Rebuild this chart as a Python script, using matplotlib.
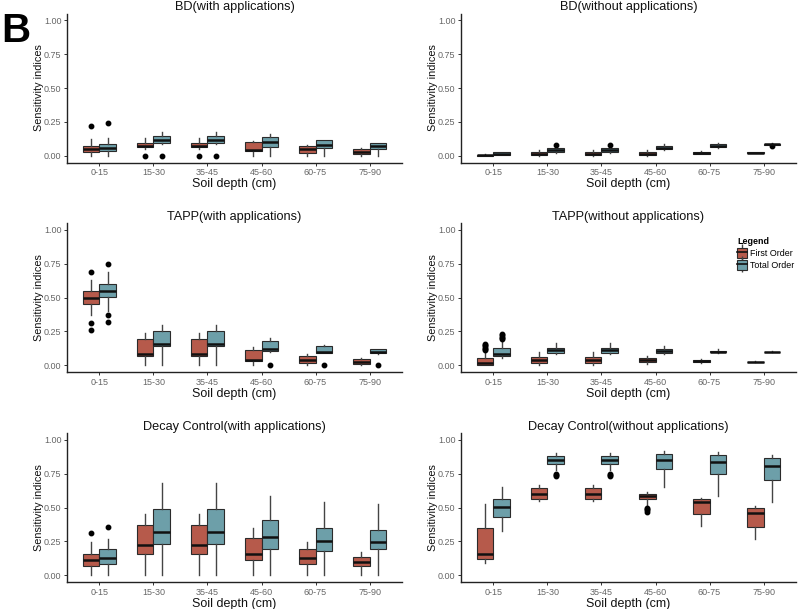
import matplotlib
matplotlib.use("Agg")
import matplotlib.pyplot as plt
from matplotlib.patches import Patch
from matplotlib.lines import Line2D
from matplotlib.legend_handler import HandlerTuple

plt.rcParams['font.family'] = ['Liberation Sans', 'DejaVu Sans']

# Data: each box = [whisker low, q1, median, q3, whisker high]
depths = ['0-15', '15-30', '35-45', '45-60', '60-75', '75-90']
titles = ['BD(with applications)', 'BD(without applications)',
          'TAPP(with applications)', 'TAPP(without applications)',
          'Decay Control(with applications)', 'Decay Control(without applications)']

bd_with_first = [[0.0, 0.025, 0.05, 0.072, 0.125], [0.05, 0.062, 0.075, 0.091, 0.13],
                 [0.05, 0.062, 0.075, 0.091, 0.13], [0.0, 0.035, 0.04, 0.10, 0.11],
                 [0.0, 0.02, 0.05, 0.07, 0.08], [0.0, 0.01, 0.03, 0.05, 0.055]]
bd_with_first_out = [[0.22], [0.0], [0.0], [], [], []]
bd_with_total = [[0.0, 0.035, 0.06, 0.085, 0.133], [0.085, 0.092, 0.116, 0.142, 0.175],
                 [0.085, 0.092, 0.116, 0.142, 0.175], [0.0, 0.066, 0.10, 0.14, 0.158],
                 [0.0, 0.06, 0.08, 0.113, 0.115], [0.0, 0.05, 0.072, 0.092, 0.095]]
bd_with_total_out = [[0.24], [0.0], [0.0], [], [], []]

bd_without_first = [[0.0, 0.0, 0.003, 0.006, 0.01], [0.0, 0.002, 0.01, 0.03, 0.04],
                    [0.0, 0.002, 0.01, 0.03, 0.04], [0.0, 0.005, 0.015, 0.03, 0.045],
                    [0.01, 0.012, 0.02, 0.03, 0.035], [0.018, 0.02, 0.022, 0.025, 0.027]]
bd_without_first_out = [[], [], [], [], [], []]
bd_without_total = [[0.003, 0.008, 0.015, 0.025, 0.027], [0.02, 0.025, 0.04, 0.055, 0.062],
                    [0.02, 0.025, 0.04, 0.055, 0.062], [0.04, 0.047, 0.06, 0.074, 0.09],
                    [0.06, 0.066, 0.075, 0.085, 0.092], [0.078, 0.08, 0.085, 0.09, 0.095]]
bd_without_total_out = [[], [0.08], [0.08], [], [], [0.07]]

tapp_with_first = [[0.37, 0.452, 0.495, 0.545, 0.63], [0.0, 0.07, 0.082, 0.19, 0.24],
                   [0.0, 0.07, 0.082, 0.19, 0.24], [0.0, 0.03, 0.04, 0.115, 0.135],
                   [0.0, 0.017, 0.04, 0.07, 0.08], [0.0, 0.01, 0.025, 0.045, 0.05]]
tapp_with_first_out = [[0.69, 0.31, 0.26], [], [], [], [], []]
tapp_with_total = [[0.40, 0.504, 0.55, 0.597, 0.685], [0.0, 0.14, 0.155, 0.25, 0.30],
                   [0.0, 0.14, 0.155, 0.25, 0.30], [0.10, 0.105, 0.12, 0.18, 0.20],
                   [0.09, 0.093, 0.10, 0.145, 0.15], [0.085, 0.088, 0.10, 0.12, 0.12]]
tapp_with_total_out = [[0.75, 0.37, 0.32], [], [], [0.0], [0.0], [0.0]]

tapp_without_first = [[0.0, 0.005, 0.02, 0.055, 0.10], [0.0, 0.017, 0.04, 0.06, 0.10],
                      [0.0, 0.017, 0.04, 0.06, 0.10], [0.01, 0.022, 0.035, 0.05, 0.065],
                      [0.02, 0.025, 0.033, 0.04, 0.045], [0.022, 0.024, 0.025, 0.026, 0.028]]
tapp_without_first_out = [[0.11, 0.12, 0.13, 0.14, 0.15, 0.16], [], [], [], [], []]
tapp_without_total = [[0.05, 0.071, 0.08, 0.128, 0.17], [0.08, 0.09, 0.11, 0.13, 0.165],
                      [0.08, 0.09, 0.11, 0.13, 0.165], [0.08, 0.09, 0.105, 0.12, 0.14],
                      [0.09, 0.095, 0.10, 0.108, 0.12], [0.097, 0.098, 0.10, 0.101, 0.102]]
tapp_without_total_out = [[0.19, 0.20, 0.21, 0.22, 0.23], [], [], [], [], []]

decay_with_first = [[0.0, 0.071, 0.115, 0.157, 0.243], [0.0, 0.16, 0.224, 0.37, 0.455],
                    [0.0, 0.16, 0.224, 0.37, 0.455], [0.0, 0.11, 0.16, 0.275, 0.35],
                    [0.0, 0.085, 0.125, 0.19, 0.243], [0.0, 0.066, 0.095, 0.133, 0.174]]
decay_with_first_out = [[0.31], [], [], [], [], []]
decay_with_total = [[0.0, 0.086, 0.13, 0.19, 0.268], [0.0, 0.23, 0.32, 0.49, 0.683],
                    [0.0, 0.23, 0.32, 0.49, 0.683], [0.0, 0.197, 0.283, 0.405, 0.587],
                    [0.0, 0.18, 0.255, 0.35, 0.54], [0.0, 0.19, 0.247, 0.337, 0.523]]
decay_with_total_out = [[0.355], [], [], [], [], []]

decay_without_first = [[0.09, 0.12, 0.157, 0.349, 0.523], [0.55, 0.563, 0.60, 0.644, 0.668],
                       [0.55, 0.563, 0.60, 0.644, 0.668], [0.52, 0.56, 0.582, 0.60, 0.615],
                       [0.36, 0.452, 0.54, 0.563, 0.57], [0.268, 0.354, 0.46, 0.50, 0.51]]
decay_without_first_out = [[], [], [], [0.47, 0.48, 0.49, 0.50], [], []]
decay_without_total = [[0.324, 0.43, 0.504, 0.563, 0.651], [0.78, 0.823, 0.853, 0.877, 0.90],
                       [0.78, 0.823, 0.853, 0.877, 0.90], [0.651, 0.786, 0.85, 0.894, 0.914],
                       [0.582, 0.747, 0.835, 0.885, 0.91], [0.538, 0.70, 0.803, 0.865, 0.89]]
decay_without_total_out = [[], [0.73, 0.74, 0.75], [0.73, 0.74, 0.75], [], [], []]

panels = [
    (bd_with_first, bd_with_first_out, bd_with_total, bd_with_total_out),
    (bd_without_first, bd_without_first_out, bd_without_total, bd_without_total_out),
    (tapp_with_first, tapp_with_first_out, tapp_with_total, tapp_with_total_out),
    (tapp_without_first, tapp_without_first_out, tapp_without_total, tapp_without_total_out),
    (decay_with_first, decay_with_first_out, decay_with_total, decay_with_total_out),
    (decay_without_first, decay_without_first_out, decay_without_total, decay_without_total_out),
]

red = '#B65A4B'
blue = '#6D9FA9'
edge = '#2b2b2b'


def make_stats(boxes, outs):
    stats = []
    for b, o in zip(boxes, outs):
        stats.append(dict(whislo=b[0], q1=b[1], med=b[2], q3=b[3], whishi=b[4], fliers=o))
    return stats


W, H = 800, 609
fig = plt.figure(figsize=(W / 100, H / 100), dpi=100)

col_x = [67, 461]
col_w = 335
row_top = [13.5, 223, 433]
row_h = 149

pos = list(range(1, len(depths) + 1))
for k, (first, first_out, total, total_out) in enumerate(panels):
    r, c = divmod(k, 2)
    ax = fig.add_axes([col_x[c] / W, 1 - (row_top[r] + row_h) / H, col_w / W, row_h / H])
    for boxes, outs, color, shift in [(first, first_out, red, -0.15), (total, total_out, blue, 0.15)]:
        ax.bxp(make_stats(boxes, outs), positions=[p + shift for p in pos], widths=0.3,
               patch_artist=True, showcaps=False, manage_ticks=False,
               boxprops=dict(facecolor=color, edgecolor=edge, linewidth=0.8),
               medianprops=dict(color='#111111', linewidth=1.8),
               whiskerprops=dict(color='#444444', linewidth=1.0),
               flierprops=dict(marker='o', markerfacecolor='black', markeredgecolor='black',
                               markersize=3.2))
    ax.set_xlim(0.4, 6.6)
    ax.set_ylim(-0.05, 1.05)
    ax.set_xticks(pos)
    ax.set_xticklabels(depths)
    ax.set_yticks([0, 0.25, 0.5, 0.75, 1.0])
    ax.set_yticklabels(['0.00', '0.25', '0.50', '0.75', '1.00'])
    ax.tick_params(labelsize=6.5, colors='#333333', labelcolor='#666666', length=2.5, width=0.7, pad=1.5)
    for s in ['top', 'right']:
        ax.spines[s].set_visible(False)
    for s in ['left', 'bottom']:
        ax.spines[s].set_color('#222222')
        ax.spines[s].set_linewidth(1.0)
    ax.set_title(titles[k], fontsize=9.2, pad=2.5, color='#111111')
    ax.set_xlabel('Soil depth (cm)', fontsize=9.0, labelpad=1.0, color='#111111')
    ax.set_ylabel('Sensitivity indices', fontsize=7.8, labelpad=0.0, color='#111111')

    if k == 3:
        handles = []
        for color in [red, blue]:
            handles.append((Line2D([], [], color='#444444', marker='|', linestyle='none', markersize=11),
                            Patch(facecolor=color, edgecolor=edge, linewidth=0.8),
                            Line2D([], [], color='#111111', linewidth=1.2)))
        leg = ax.legend(handles, ['First Order', 'Total Order'], title='Legend',
                        handler_map={tuple: HandlerTuple(ndivide=1, pad=0)},
                        loc='upper left', bbox_to_anchor=(731 / W, 1 - 231 / H),
                        bbox_transform=fig.transFigure, frameon=False, fontsize=6.4,
                        title_fontproperties={'weight': 'bold', 'size': 6.4},
                        handlelength=1.1, handleheight=1.4, handletextpad=0.35,
                        labelspacing=0.2, borderpad=0.2, alignment='left')

fig.text(1 / W, 1 - 42 / H, 'B', fontsize=29, fontweight='bold', va='baseline', ha='left')

fig.savefig('out.png', dpi=100)
